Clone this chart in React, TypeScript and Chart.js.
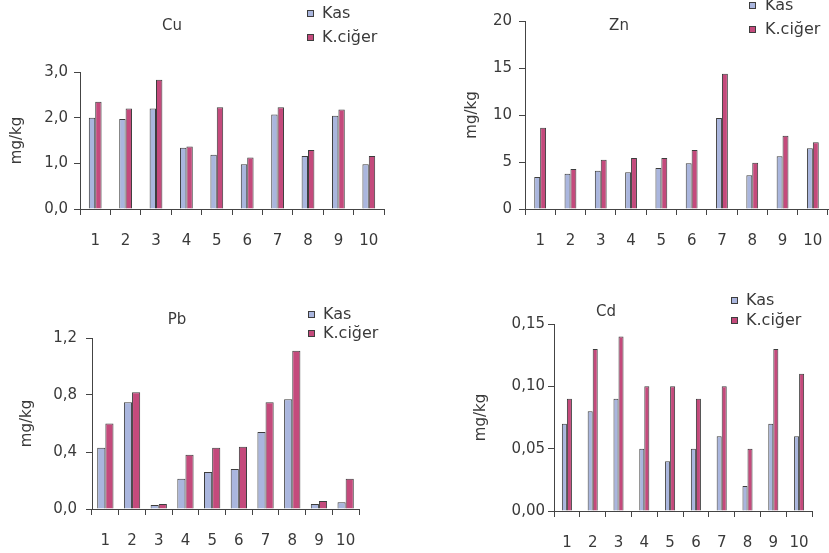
import React, { useEffect, useRef } from 'react';
import { Chart, registerables } from 'chart.js';

Chart.register(...registerables);

// ---------- data ----------
const categories = ['1', '2', '3', '4', '5', '6', '7', '8', '9', '10'];
const seriesNames = ['Kas', 'K.ciğer'];

const cuKas = [2.0, 1.97, 2.2, 1.34, 1.19, 0.98, 2.07, 1.16, 2.04, 0.98];
const cuCiger = [2.35, 2.2, 2.83, 1.37, 2.23, 1.13, 2.23, 1.29, 2.18, 1.16];
const cuTicks = [0, 1, 2, 3];

const znKas = [3.4, 3.76, 4.08, 3.9, 4.36, 4.86, 9.68, 3.58, 5.6, 6.45];
const znCiger = [8.65, 4.26, 5.25, 5.43, 5.43, 6.28, 14.4, 4.93, 7.8, 7.09];
const znTicks = [0, 5, 10, 15, 20];

const pbKas = [0.43, 0.75, 0.028, 0.213, 0.26, 0.28, 0.54, 0.77, 0.035, 0.047];
const pbCiger = [0.6, 0.82, 0.035, 0.38, 0.43, 0.437, 0.75, 1.11, 0.056, 0.213];
const pbTicks = [0, 0.4, 0.8, 1.2];

const cdKas = [0.07, 0.08, 0.09, 0.05, 0.04, 0.05, 0.06, 0.02, 0.07, 0.06];
const cdCiger = [0.09, 0.13, 0.14, 0.1, 0.1, 0.09, 0.1, 0.05, 0.13, 0.11];
const cdTicks = [0, 0.05, 0.1, 0.15];

const yAxisTitle = 'mg/kg';

// ---------- styles ----------
const FONT_FAMILY = '"DejaVu Sans", Verdana, sans-serif';
const FONT_SIZE = 15;
const LEGEND_FONT_SIZE = 16;
const TEXT_COLOR = '#3a3a3a';
const AXIS_COLOR = '#444';
const KAS_COLOR = '#aab6de';
const CIGER_COLOR = '#c44a7c';
const BAR_BORDER = '#3d3d3d';
const X_HEIGHT = 40;

type Box = { l: number; t: number; w: number; h: number };
type Area = { l: number; t: number; r: number; b: number };

type Panel = {
  title: string;
  kas: number[];
  ciger: number[];
  ticks: number[];
  decimals: number;
  box: Box;
  area: Area;
  yTitleX: number;
  yTickPad: number;
  catPct: number;
  titlePos: [number, number];
  legendSq: number;
  legendText: number;
  legendY: [number, number];
};

const panels: Panel[] = [
  {
    title: 'Cu', kas: cuKas, ciger: cuCiger, ticks: cuTicks, decimals: 1,
    box: { l: 0, t: 0, w: 414, h: 276 },
    area: { l: 80, t: 72, r: 384, b: 209 },
    yTitleX: 17, yTickPad: 6, catPct: 0.42,
    titlePos: [172, 25], legendSq: 307, legendText: 322, legendY: [13, 37],
  },
  {
    title: 'Zn', kas: znKas, ciger: znCiger, ticks: znTicks, decimals: 0,
    box: { l: 414, t: 0, w: 415, h: 276 },
    area: { l: 525, t: 21, r: 828, b: 209 },
    yTitleX: 472, yTickPad: 7, catPct: 0.39,
    titlePos: [619, 25], legendSq: 749, legendText: 765, legendY: [5, 29],
  },
  {
    title: 'Pb', kas: pbKas, ciger: pbCiger, ticks: pbTicks, decimals: 1,
    box: { l: 0, t: 276, w: 414, h: 277 },
    area: { l: 92, t: 338, r: 359, b: 509 },
    yTitleX: 27, yTickPad: 9, catPct: 0.61,
    titlePos: [177, 319], legendSq: 308, legendText: 323, legendY: [314, 333],
  },
  {
    title: 'Cd', kas: cdKas, ciger: cdCiger, ticks: cdTicks, decimals: 2,
    box: { l: 414, t: 276, w: 415, h: 277 },
    area: { l: 554, t: 324, r: 812, b: 511 },
    yTitleX: 481, yTickPad: 3, catPct: 0.39,
    titlePos: [606, 311], legendSq: 731, legendText: 746, legendY: [300, 320],
  },
];

function BarPanel({ p }: { p: Panel }) {
  const ref = useRef<HTMLCanvasElement | null>(null);

  useEffect(() => {
    if (!ref.current) return;
    const lineH = FONT_SIZE * 1.2;
    const padL = p.yTitleX - p.box.l - lineH / 2;
    const yWidth = p.area.l - p.box.l - padL;
    const padT = p.area.t - p.box.t;
    const padR = p.box.l + p.box.w - p.area.r;
    const padB = p.box.t + p.box.h - p.area.b - X_HEIGHT;
    const font = { family: FONT_FAMILY, size: FONT_SIZE };
    const ticks = p.ticks;

    const chart = new Chart(ref.current, {
      type: 'bar',
      data: {
        labels: categories,
        datasets: [
          {
            label: seriesNames[0],
            data: p.kas,
            backgroundColor: KAS_COLOR,
            borderColor: BAR_BORDER,
            borderWidth: 1,
            categoryPercentage: p.catPct,
            barPercentage: 1,
          },
          {
            label: seriesNames[1],
            data: p.ciger,
            backgroundColor: CIGER_COLOR,
            borderColor: BAR_BORDER,
            borderWidth: 1,
            categoryPercentage: p.catPct,
            barPercentage: 1,
          },
        ],
      },
      options: {
        animation: false,
        responsive: true,
        maintainAspectRatio: false,
        layout: {
          autoPadding: false,
          padding: { left: padL, top: padT, right: padR, bottom: padB },
        },
        plugins: {
          legend: { display: false },
          title: { display: false },
          tooltip: { enabled: false },
        },
        scales: {
          x: {
            type: 'category',
            afterFit: (s: any) => {
              s.height = X_HEIGHT;
              s.paddingLeft = 0;
              s.paddingRight = 0;
            },
            grid: {
              display: true,
              drawOnChartArea: false,
              drawTicks: true,
              tickLength: 6,
              color: AXIS_COLOR,
              offset: true,
            },
            border: { display: true, color: AXIS_COLOR, width: 1 },
            ticks: { padding: 17, color: TEXT_COLOR, font, maxRotation: 0, autoSkip: false },
          },
          y: {
            type: 'linear',
            min: ticks[0],
            max: ticks[ticks.length - 1],
            afterBuildTicks: (s: any) => { s.ticks = ticks.map((v) => ({ value: v })); },
            afterFit: (s: any) => {
              s.width = yWidth;
              s.paddingTop = 0;
              s.paddingBottom = 0;
            },
            grid: {
              display: true,
              drawOnChartArea: false,
              drawTicks: true,
              tickLength: 6,
              color: AXIS_COLOR,
            },
            border: { display: true, color: AXIS_COLOR, width: 1 },
            ticks: {
              padding: p.yTickPad,
              color: TEXT_COLOR,
              font,
              callback: (v: any) => Number(v).toFixed(p.decimals).replace('.', ','),
            },
            title: {
              display: true,
              text: yAxisTitle,
              color: TEXT_COLOR,
              font,
              padding: 0,
            },
          },
        },
      } as any,
    });
    return () => chart.destroy();
  }, [p]);

  const textStyle: React.CSSProperties = {
    position: 'absolute',
    fontFamily: FONT_FAMILY,
    fontSize: FONT_SIZE,
    color: TEXT_COLOR,
    whiteSpace: 'nowrap',
    lineHeight: 1,
  };

  return (
    <>
      <div
        style={{
          position: 'absolute',
          left: p.box.l,
          top: p.box.t,
          width: p.box.w,
          height: p.box.h,
        }}
      >
        <canvas ref={ref} />
      </div>
      <div
        style={{
          ...textStyle,
          left: p.titlePos[0],
          top: p.titlePos[1],
          transform: 'translate(-50%, -50%)',
        }}
      >
        {p.title}
      </div>
      {seriesNames.map((name, i) => (
        <React.Fragment key={name}>
          <div
            style={{
              position: 'absolute',
              left: p.legendSq,
              top: p.legendY[i] - 3.5,
              width: 5,
              height: 5,
              background: i === 0 ? KAS_COLOR : CIGER_COLOR,
              border: `1px solid ${BAR_BORDER}`,
            }}
          />
          <div
            style={{
              ...textStyle,
              fontSize: LEGEND_FONT_SIZE,
              left: p.legendText,
              top: p.legendY[i],
              transform: 'translateY(-50%)',
            }}
          >
            {name}
          </div>
        </React.Fragment>
      ))}
    </>
  );
}

export default function App() {
  return (
    <div
      style={{
        position: 'absolute',
        left: 0,
        top: 0,
        width: 829,
        height: 553,
        background: '#fff',
        overflow: 'hidden',
      }}
    >
      {panels.map((p) => (
        <BarPanel key={p.title} p={p} />
      ))}
    </div>
  );
}
